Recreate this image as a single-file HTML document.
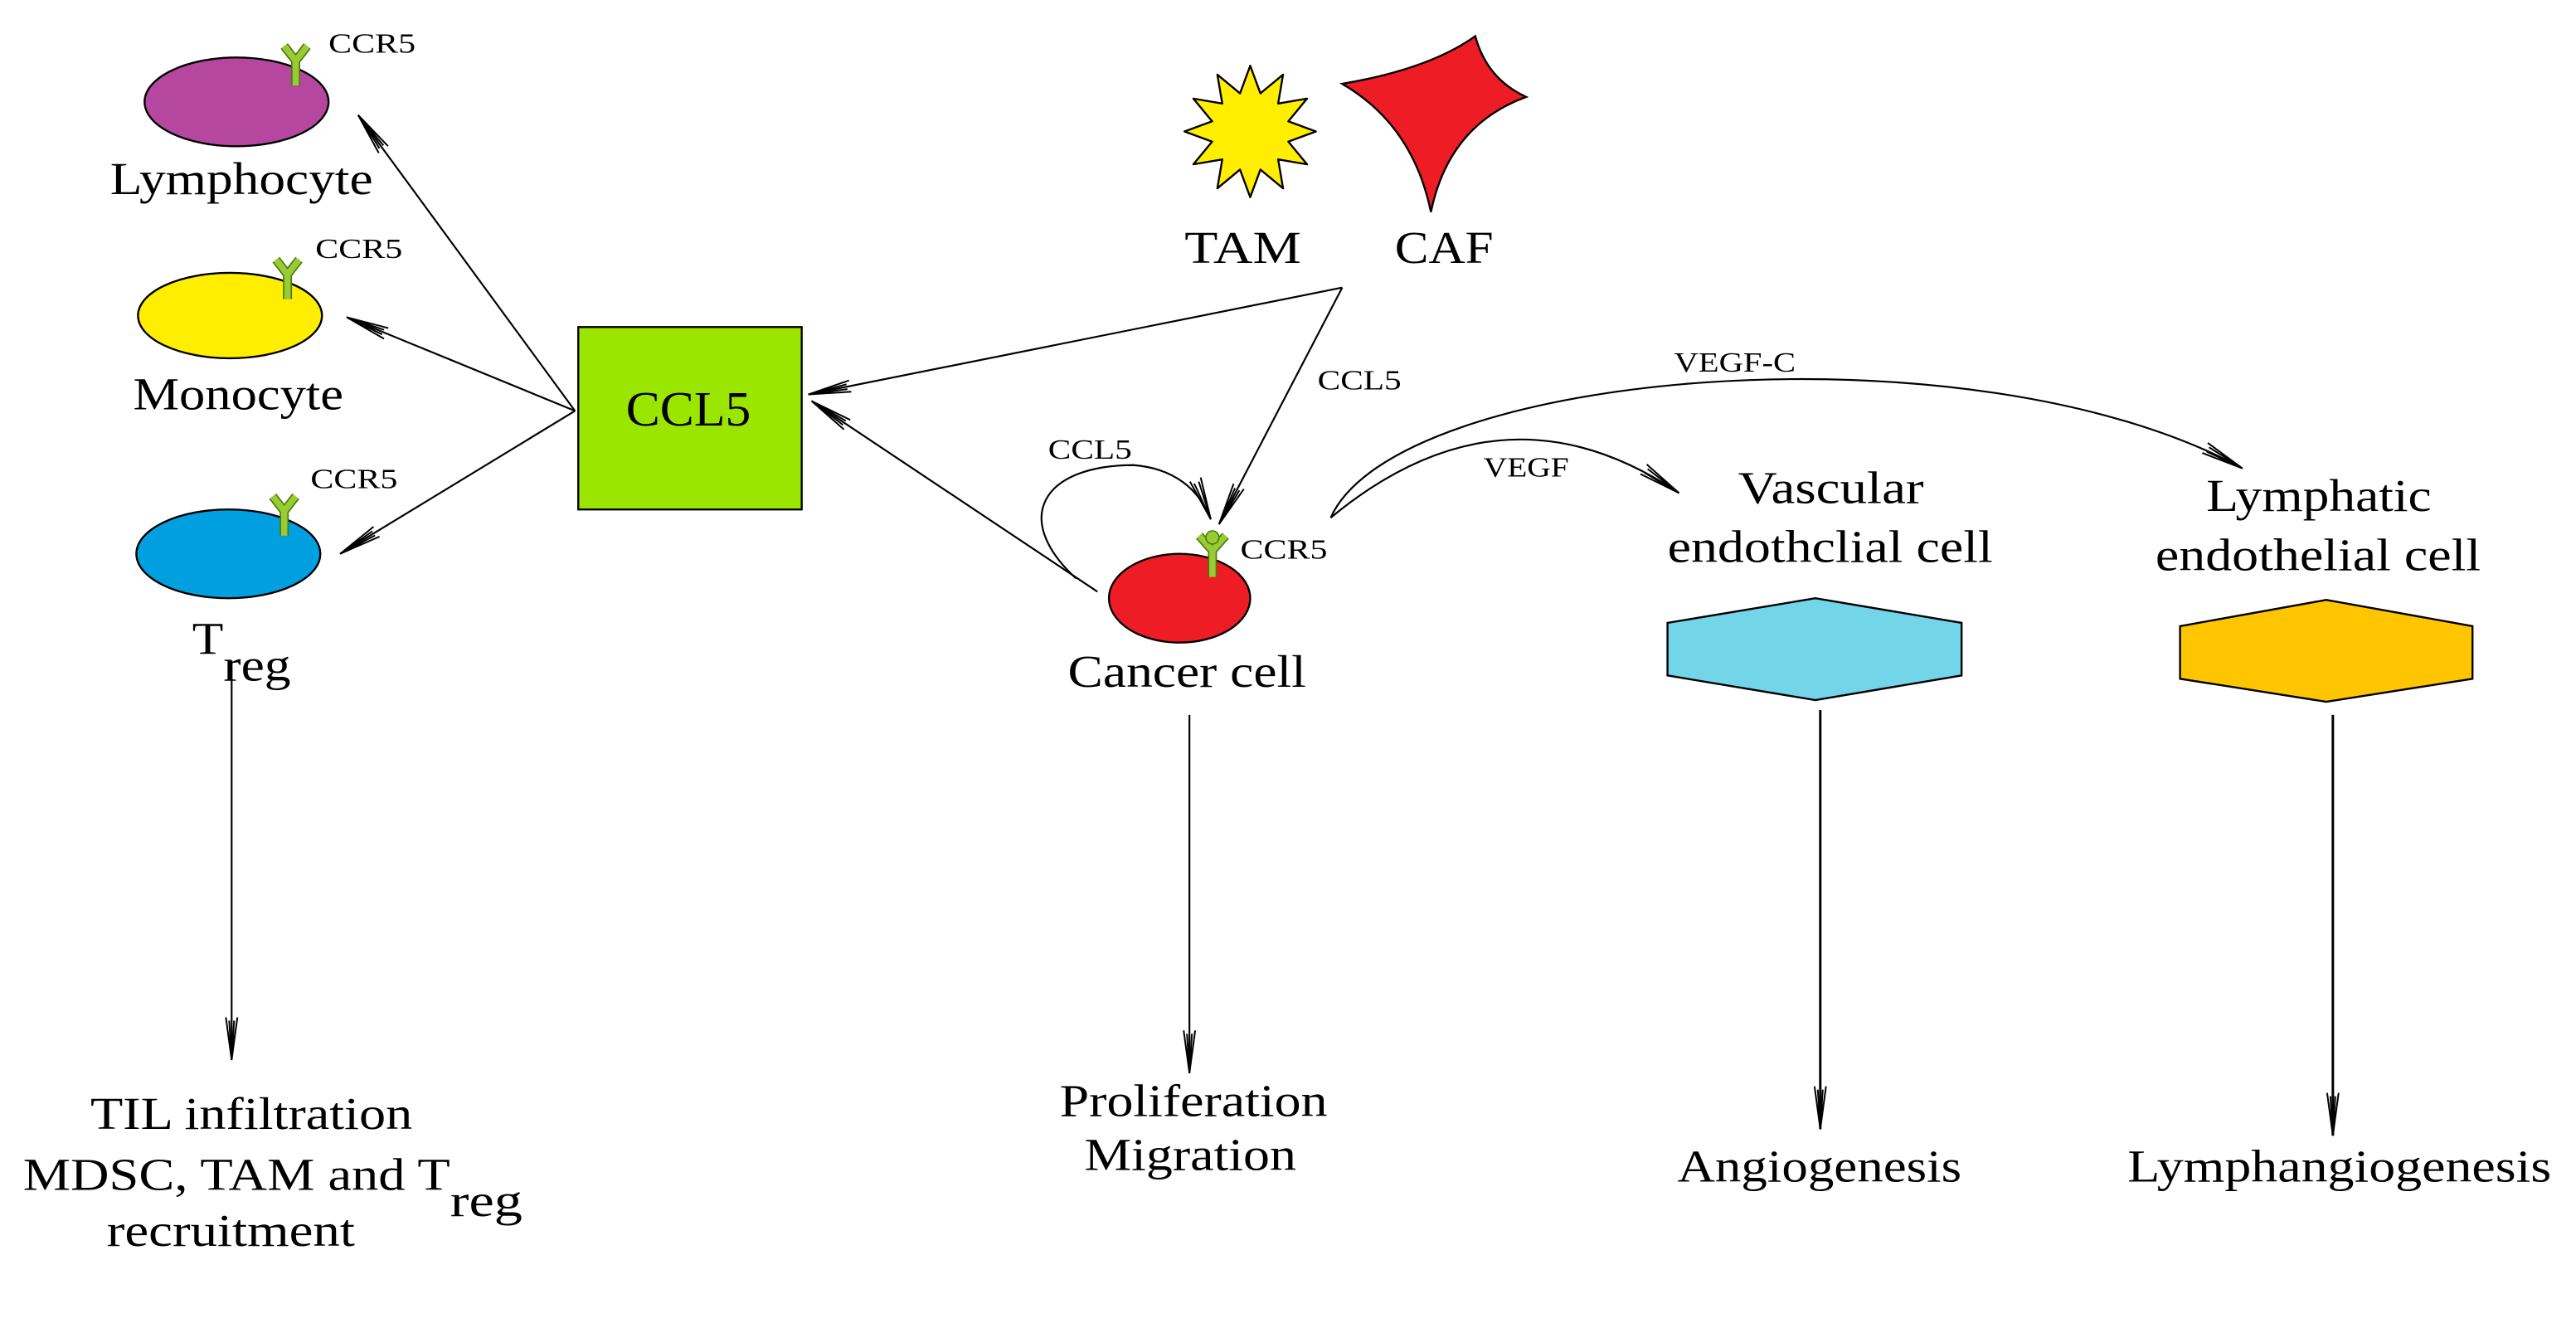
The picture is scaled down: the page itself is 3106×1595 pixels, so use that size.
<!DOCTYPE html>
<html><head><meta charset="utf-8"><style>html,body{margin:0;padding:0;background:#fff}svg{display:block}text{font-family:"Liberation Serif",serif;fill:#000}</style></head>
<body>
<svg width="3106" height="1595" viewBox="0 0 1568 805" preserveAspectRatio="none" xmlns="http://www.w3.org/2000/svg">
<defs>
<marker id="ar" markerUnits="userSpaceOnUse" markerWidth="30" markerHeight="12" refX="26" refY="5" orient="auto" overflow="visible">
<path d="M0,1.5 L26,5 L0,8.5 M2,3.5 L26,5 L2,6.5" fill="none" stroke="#000" stroke-width="1"/>
</marker>
</defs>
<g fill="none" stroke="#000" stroke-width="1.1">
<line x1="350" y1="250" x2="218" y2="70" marker-end="url(#ar)"/>
<line x1="350" y1="250" x2="211" y2="193" marker-end="url(#ar)"/>
<line x1="350" y1="250" x2="207" y2="337" marker-end="url(#ar)"/>
<line x1="817" y1="175" x2="492" y2="240" marker-end="url(#ar)"/>
<line x1="668" y1="360" x2="494" y2="244" marker-end="url(#ar)"/>
<line x1="817" y1="175" x2="742" y2="319" marker-end="url(#ar)"/>
<path d="M655,352 C615,315 635,283 690,283 C715,285 730,298 737,316" marker-end="url(#ar)"/>
<path d="M810,315 Q915,228 1022,300" marker-end="url(#ar)"/>
<path d="M810,315 C850,225 1200,195 1365,285" marker-end="url(#ar)"/>
<line x1="141" y1="402" x2="141" y2="645" marker-end="url(#ar)"/>
<line x1="724" y1="435" x2="724" y2="653" marker-end="url(#ar)"/>
<line x1="1108" y1="432" x2="1108" y2="687" marker-end="url(#ar)" stroke-width="1.5"/>
<line x1="1420" y1="435" x2="1420" y2="691" marker-end="url(#ar)" stroke-width="1.5"/>
</g>
<g stroke="#000" stroke-width="1.2">
<ellipse cx="144" cy="62" rx="56" ry="27" fill="#b5479f"/>
<ellipse cx="140" cy="192" rx="56" ry="26" fill="#ffee00"/>
<ellipse cx="139" cy="337" rx="56" ry="27" fill="#00a0e0"/>
<rect x="352" y="199" width="136" height="111" fill="#9be600"/>
<ellipse cx="718" cy="364" rx="43" ry="27" fill="#ee1c24"/>
<polygon points="1015,379 1105,364 1194,379 1194,411 1105,426 1015,411" fill="#72d6e8"/>
<polygon points="1327,381 1416,365 1505,381 1505,413 1416,427 1327,413" fill="#ffc600"/>
<polygon points="801,80 784.2,73.8 795.6,60 778,63 781,45.4 767.2,56.8 761,40 754.8,56.8 741,45.4 744,63 726.4,60 737.8,73.8 721,80 737.8,86.2 726.4,100 744,97 741,114.6 754.8,103.2 761,120 767.2,103.2 781,114.6 778,97 795.6,100 784.2,86.2" fill="#ffee00" stroke-linejoin="round"/>
<path d="M817,51 Q870,42 898,22 Q905,48 929,59 Q882,76 871,129 Q860,76 817,51 Z" fill="#ee1c24"/>
</g>
<g fill="none" stroke-linecap="butt">
<g stroke="#4a7a10" stroke-width="5.5">
<path d="M180,52 V37 M173,28 L180,37 L187,28"/>
<path d="M175,182 V167 M168,158 L175,167 L182,158"/>
<path d="M173,326 V311 M166,302 L173,311 L180,302"/>
<path d="M738,351 V335 M730,326 L738,335 L746,326"/>
</g>
<g stroke="#99cc33" stroke-width="3.8">
<path d="M180,52 V37 M173,28 L180,37 L187,28"/>
<path d="M175,182 V167 M168,158 L175,167 L182,158"/>
<path d="M173,326 V311 M166,302 L173,311 L180,302"/>
<path d="M738,351 V335 M730,326 L738,335 L746,326"/>
</g>
<circle cx="738" cy="327" r="4" fill="#99cc33" stroke="#4a7a10" stroke-width="0.8"/>
</g>
<g font-size="17">
<text x="200" y="32" textLength="53" lengthAdjust="spacingAndGlyphs">CCR5</text>
<text x="192" y="157" textLength="53" lengthAdjust="spacingAndGlyphs">CCR5</text>
<text x="189" y="297" textLength="53" lengthAdjust="spacingAndGlyphs">CCR5</text>
<text x="755" y="340" textLength="53" lengthAdjust="spacingAndGlyphs">CCR5</text>
<text x="638" y="279" textLength="51" lengthAdjust="spacingAndGlyphs">CCL5</text>
<text x="802" y="237" textLength="51" lengthAdjust="spacingAndGlyphs">CCL5</text>
<text x="903" y="290" textLength="52" lengthAdjust="spacingAndGlyphs">VEGF</text>
<text x="1019" y="226" textLength="74" lengthAdjust="spacingAndGlyphs">VEGF-C</text>
</g>
<g font-size="28">
<text x="67" y="118" textLength="160" lengthAdjust="spacingAndGlyphs">Lymphocyte</text>
<text x="81" y="249" textLength="128" lengthAdjust="spacingAndGlyphs">Monocyte</text>
<text x="117" y="398" textLength="19" lengthAdjust="spacingAndGlyphs">T</text>
<text x="136" y="414" textLength="41" lengthAdjust="spacingAndGlyphs">reg</text>
<text x="381" y="259" font-size="30" textLength="76" lengthAdjust="spacingAndGlyphs">CCL5</text>
<text x="721" y="160" textLength="71" lengthAdjust="spacingAndGlyphs">TAM</text>
<text x="849" y="160" textLength="60" lengthAdjust="spacingAndGlyphs">CAF</text>
<text x="650" y="418" textLength="145" lengthAdjust="spacingAndGlyphs">Cancer cell</text>
<text x="1058" y="306" textLength="113" lengthAdjust="spacingAndGlyphs">Vascular</text>
<text x="1015" y="342" textLength="198" lengthAdjust="spacingAndGlyphs">endothclial cell</text>
<text x="1343" y="311" textLength="137" lengthAdjust="spacingAndGlyphs">Lymphatic</text>
<text x="1312" y="347" textLength="198" lengthAdjust="spacingAndGlyphs">endothelial cell</text>
<text x="55" y="687" textLength="196" lengthAdjust="spacingAndGlyphs">TIL infiltration</text>
<text x="14" y="724" textLength="260" lengthAdjust="spacingAndGlyphs">MDSC, TAM and T</text>
<text x="274" y="740" textLength="44" lengthAdjust="spacingAndGlyphs">reg</text>
<text x="65" y="758" textLength="151" lengthAdjust="spacingAndGlyphs">recruitment</text>
<text x="645" y="679" textLength="163" lengthAdjust="spacingAndGlyphs">Proliferation</text>
<text x="660" y="712" textLength="129" lengthAdjust="spacingAndGlyphs">Migration</text>
<text x="1021" y="719" textLength="173" lengthAdjust="spacingAndGlyphs">Angiogenesis</text>
<text x="1295" y="719" textLength="258" lengthAdjust="spacingAndGlyphs">Lymphangiogenesis</text>
</g>
</svg>
</body></html>
